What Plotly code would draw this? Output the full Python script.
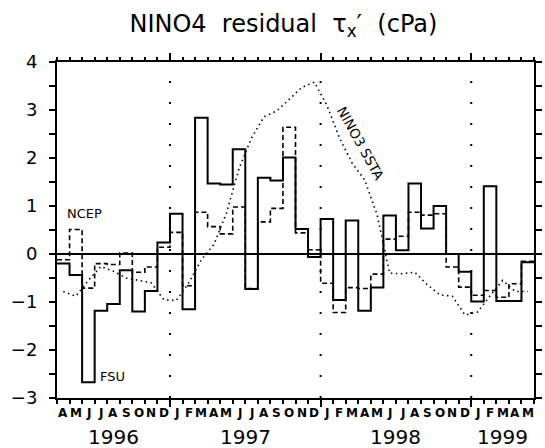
import plotly.graph_objects as go

# ---------------- data ----------------
months = ["A", "M", "J", "J", "A", "S", "O", "N", "D",
          "J", "F", "M", "A", "M", "J", "J", "A", "S", "O", "N", "D",
          "J", "F", "M", "A", "M", "J", "J", "A", "S", "O", "N", "D",
          "J", "F", "M", "A", "M"]
years = ["1996", "1997", "1998", "1999"]

fsu = [-0.20, -0.44, -2.67, -1.18, -1.04, -0.34, -1.20, -0.77, 0.24,
       0.84, -1.15, 2.84, 1.47, 1.45, 2.18, -0.73, 1.59, 1.53, 2.01, 0.52, -0.06,
       0.73, -0.96, 0.70, -1.18, -0.70, 0.80, 0.08, 1.47, 0.53, 1.00, 0.00, -0.37,
       -0.99, 1.41, -0.98, -0.98, -0.17]

ncep = [-0.12, 0.51, -0.71, -0.20, -0.22, 0.02, -0.38, -0.27, 0.14,
        0.45, -0.66, 0.87, 0.57, 0.42, 0.98, -0.72, 0.67, 0.95, 2.64, 0.44, 0.09,
        -0.61, -1.22, -0.70, -0.72, -0.42, 0.31, 0.37, 0.87, 0.81, 0.84, -0.27, -0.69,
        -0.86, -0.76, -0.90, -0.62, -0.15]

nino3_ssta = [-0.78, -0.88, -0.55, -0.26, -0.36, -0.50, -0.55, -0.60, -0.95,
              -0.97, -0.60, -0.12, 0.20, 0.85, 1.78, 2.42, 2.86, 2.98, 3.22, 3.47, 3.58,
              3.10, 2.42, 1.90, 1.55, 0.82, -0.40, -0.41, -0.38, -0.64, -0.85, -0.88, -1.27,
              -1.21, -0.87, -0.55, -0.78, -0.78]

# ---------------- derived positions ----------------
n = len(months)
edges = list(range(n + 1))
centers = [i + 0.5 for i in range(n)]
year_starts = [0] + [i for i in range(1, n) if months[i] == "J" and months[i - 1] == "D"]
year_ends = year_starts[1:] + [n]

font_family = "DejaVu Sans"
NB = "\u00a0"

fig = go.Figure()

# NINO3 SSTA dotted curve
fig.add_trace(go.Scatter(x=centers, y=nino3_ssta, mode="lines",
                         line=dict(color="black", width=1.6, dash="1.5px,3.5px"),
                         hoverinfo="skip"))
# NCEP dashed step
fig.add_trace(go.Scatter(x=edges, y=ncep + [ncep[-1]], mode="lines",
                         line=dict(color="black", width=1.6, dash="5px,3px", shape="hv"),
                         hoverinfo="skip"))
# FSU solid step
fig.add_trace(go.Scatter(x=edges, y=fsu + [fsu[-1]], mode="lines",
                         line=dict(color="black", width=2, shape="hv"),
                         hoverinfo="skip"))

shapes = []
for ys in year_starts[1:]:
    shapes.append(dict(type="line", xref="x", yref="y", x0=ys, x1=ys, y0=4, y1=-3,
                       line=dict(color="black", width=2, dash="0px,19px,2px,0px"),
                       layer="above"))

annotations = []
for c, m in zip(centers, months):
    annotations.append(dict(x=c, y=-0.044, xref="x", yref="paper", text="<b>" + m + "</b>",
                            showarrow=False, yanchor="middle",
                            font=dict(family=font_family, size=12, color="black")))
for s, e, yr in zip(year_starts, year_ends, years):
    annotations.append(dict(x=(s + e) / 2, y=-0.1146, xref="x", yref="paper", text=yr,
                            showarrow=False, yanchor="middle",
                            font=dict(family=font_family, size=20, color="black")))

annotations += [
    dict(x=2.2, y=0.85, xref="x", yref="y", text="NCEP", showarrow=False,
         font=dict(family=font_family, size=13, color="black")),
    dict(x=4.45, y=-2.55, xref="x", yref="y", text="FSU", showarrow=False,
         font=dict(family=font_family, size=13, color="black")),
    dict(x=24.25, y=2.3, xref="x", yref="y", text="NINO3 SSTA", showarrow=False,
         textangle=61, font=dict(family=font_family, size=13.5, color="black")),
]

title_text = ("NINO4" + NB + " residual" + NB + " τ<sub>x</sub>′" + NB + " (cPa)")

fig.update_layout(
    width=545, height=448,
    margin=dict(l=57, r=3, t=62, b=50, pad=0),
    paper_bgcolor="white", plot_bgcolor="white",
    showlegend=False,
    title=dict(text=title_text, x=0.52, xanchor="center",
               y=0.947, yanchor="middle",
               font=dict(family=font_family, size=24, color="black")),
    shapes=shapes,
    annotations=annotations,
    xaxis=dict(range=[0, n], tickmode="array", tickvals=year_starts[1:],
               showticklabels=False, ticks="outside", ticklen=7, tickwidth=1.5,
               tickcolor="black",
               minor=dict(tick0=0, dtick=1, ticks="outside", ticklen=3.5,
                          tickwidth=1.5, tickcolor="black", showgrid=False),
               showline=True, linecolor="black", linewidth=2, mirror="ticks",
               showgrid=False, zeroline=False, fixedrange=True),
    yaxis=dict(range=[-3, 4], tickmode="linear", tick0=0, dtick=1,
               ticks="outside", ticklen=6, tickwidth=1.5, tickcolor="black",
               minor=dict(tick0=0, dtick=0.5, ticks="outside", ticklen=6,
                          tickwidth=1.5, tickcolor="black", showgrid=False),
               showline=True, linecolor="black", linewidth=2, mirror="ticks",
               showgrid=False, zeroline=True, zerolinecolor="black", zerolinewidth=1.5,
               tickfont=dict(family=font_family, size=18, color="black"),
               ticklabelstandoff=8, fixedrange=True),
)

fig.write_html("out.html")
